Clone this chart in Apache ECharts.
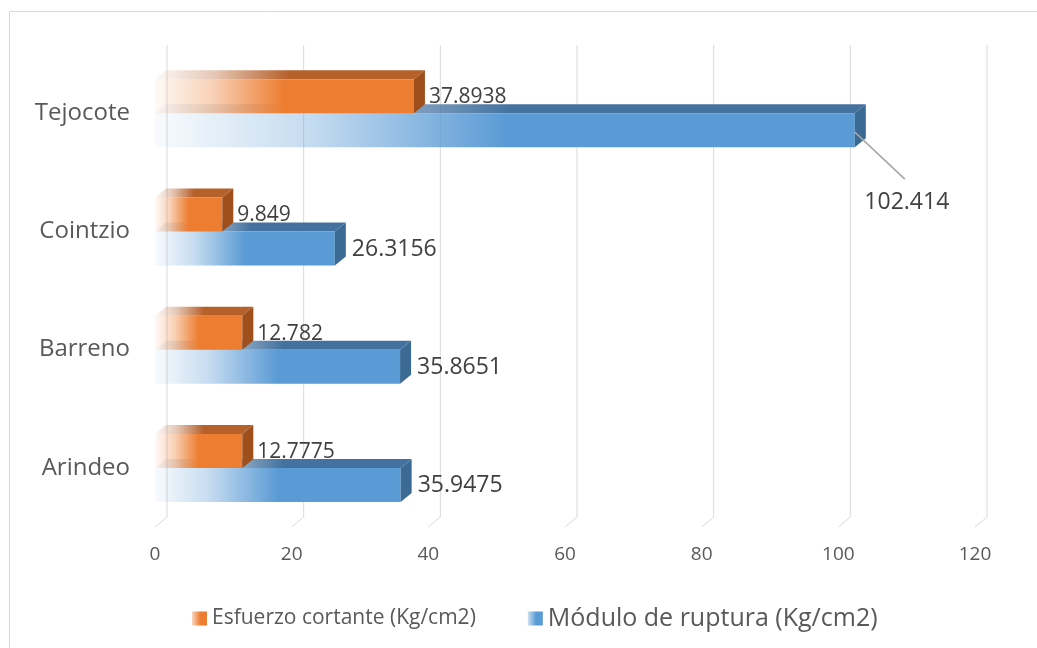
<!DOCTYPE html>
<html>
<head>
<meta charset="utf-8">
<script src="https://cdn.jsdelivr.net/npm/echarts@6/dist/echarts.min.js"></script>
<style>html,body{margin:0;padding:0;background:#fff;}#c{width:1037px;height:648px;}</style>
</head>
<body>
<div id="c"></div>
<script>
var categories = ['Arindeo', 'Barreno', 'Cointzio', 'Tejocote'];
var esfuerzo = [12.7775, 12.782, 9.849, 37.8938];
var modulo = [35.9475, 35.8651, 26.3156, 102.414];
var xTicks = [0, 20, 40, 60, 80, 100, 120];
var seriesNames = ['Esfuerzo cortante (Kg/cm2)', 'Módulo de ruptura (Kg/cm2)'];

var FONT = 'Open Sans';
var DX = 11, DY = -9, BAR_H = 34;
var ORANGE = [237, 125, 49], BLUE = [91, 155, 213];
var ORANGE_TOP = [182, 96, 42], BLUE_TOP = [68, 114, 160];
var ORANGE_SIDE = '#9E4F1C', BLUE_SIDE = '#3B6A94';

function rgba(c, a) { return 'rgba(' + c[0] + ',' + c[1] + ',' + c[2] + ',' + a + ')'; }
function fade(c) {
  return new echarts.graphic.LinearGradient(0, 0, 1, 0, [
    { offset: 0, color: rgba(c, 0.04) },
    { offset: 0.22, color: rgba(c, 0.35) },
    { offset: 0.5, color: rgba(c, 1) },
    { offset: 1, color: rgba(c, 1) }
  ]);
}
function iconFade(c) {
  return new echarts.graphic.LinearGradient(0, 0, 1, 0, [
    { offset: 0, color: rgba(c, 0.3) },
    { offset: 0.55, color: rgba(c, 1) },
    { offset: 1, color: rgba(c, 1) }
  ]);
}

var maxModulo = Math.max.apply(null, modulo);

function makeBarRenderer(isBlue) {
  return function (params, api) {
    var v = api.value(0), cat = api.value(1);
    var end = api.coord([v, cat]);
    var start = api.coord([0, cat]);
    var cy = end[1];
    var x0 = start[0], x1 = end[0];
    var yT = isBlue ? cy : cy - BAR_H;
    var yB = isBlue ? cy + BAR_H : cy;
    var main = isBlue ? BLUE : ORANGE;
    var topc = isBlue ? BLUE_TOP : ORANGE_TOP;
    var side = isBlue ? BLUE_SIDE : ORANGE_SIDE;
    var zFace = isBlue ? 4 : 3;
    var zTop = isBlue ? 2 : 3;
    var children = [
      { type: 'polygon', z2: zTop, shape: { points: [[x0, yT], [x1, yT], [x1 + DX, yT + DY], [x0 + DX, yT + DY]] },
        style: { fill: fade(topc) } },
      { type: 'rect', z2: zFace, shape: { x: x0, y: yT, width: x1 - x0, height: yB - yT },
        style: { fill: fade(main) } },
      { type: 'polygon', z2: zFace, shape: { points: [[x1, yT], [x1 + DX, yT + DY], [x1 + DX, yB + DY], [x1, yB]] },
        style: { fill: side } }
    ];
    var label = String(v);
    var ymid = (yT + yB) / 2 + 1;
    if (isBlue && v === maxModulo) {
      children.push({ type: 'line', z2: 5, shape: { x1: x1, y1: ymid + 1, x2: x1 + 50, y2: ymid + 48 },
        style: { stroke: '#A6A6A6', lineWidth: 1.5 } });
      children.push({ type: 'text', z2: 5, style: { text: label, x: x1 + 52, y: ymid + 71, align: 'center', verticalAlign: 'middle',
        font: '23px "' + FONT + '"', fill: '#404040' } });
    } else {
      children.push({ type: 'text', z2: isBlue ? 5 : 1, style: { text: label, x: x1 + (isBlue ? 17 : 15), y: ymid, align: 'left', verticalAlign: 'middle',
        font: (isBlue ? 23 : 21) + 'px "' + FONT + '"', fill: '#404040' } });
    }
    return { type: 'group', children: children };
  };
}

function gridRenderer(params, api) {
  var cs = params.coordSys;
  var x = api.coord([api.value(0), 0])[0];
  var top = cs.y - 9, bottom = cs.y + cs.height;
  return {
    type: 'polyline', z2: 0,
    shape: { points: [[x + 12, top], [x + 12, bottom - 10], [x, bottom]] },
    style: { stroke: '#D9D9D9', lineWidth: 1, fill: null }
  };
}

var chart = echarts.init(document.getElementById('c'), null, { renderer: 'canvas' });
chart.setOption({
  backgroundColor: '#fff',
  animation: false,
  textStyle: { fontFamily: FONT },
  graphic: [{ type: 'rect', left: 7, top: 9, shape: { width: 1040, height: 650 }, style: { fill: null, stroke: '#D9D9D9', lineWidth: 1 }, silent: true }],
  grid: { left: 155, right: 62, top: 54, bottom: 121 },
  xAxis: {
    type: 'value', min: 0, max: 120, interval: 20,
    axisLine: { show: false }, axisTick: { show: false }, splitLine: { show: false },
    axisLabel: { fontSize: 19, color: '#595959', margin: 18, fontFamily: FONT }
  },
  yAxis: {
    type: 'category', data: categories,
    axisLine: { show: false }, axisTick: { show: false }, splitLine: { show: false },
    axisLabel: { fontSize: 24, color: '#595959', margin: 25, fontFamily: FONT }
  },
  legend: {
    left: 187, top: 601, icon: 'rect', itemWidth: 15, itemHeight: 14, itemGap: 52,
    data: [
      { name: seriesNames[0], itemStyle: { color: iconFade(ORANGE) }, textStyle: { fontSize: 21, color: '#595959', fontFamily: FONT } },
      { name: seriesNames[1], itemStyle: { color: iconFade(BLUE) }, textStyle: { fontSize: 25, color: '#595959', fontFamily: FONT } }
    ]
  },
  series: [
    { type: 'custom', name: 'grid', z: 1, silent: true, renderItem: gridRenderer,
      encode: { x: 0, y: 1 }, data: xTicks.map(function (t) { return [t, 0]; }) },
    { type: 'custom', name: seriesNames[1], z: 2, renderItem: makeBarRenderer(true),
      itemStyle: { color: '#5B9BD5' }, encode: { x: 0, y: 1 },
      data: modulo.map(function (v, i) { return [v, i]; }) },
    { type: 'custom', name: seriesNames[0], z: 2, renderItem: makeBarRenderer(false),
      itemStyle: { color: '#ED7D31' }, encode: { x: 0, y: 1 },
      data: esfuerzo.map(function (v, i) { return [v, i]; }) }
  ]
});
</script>
</body>
</html>
